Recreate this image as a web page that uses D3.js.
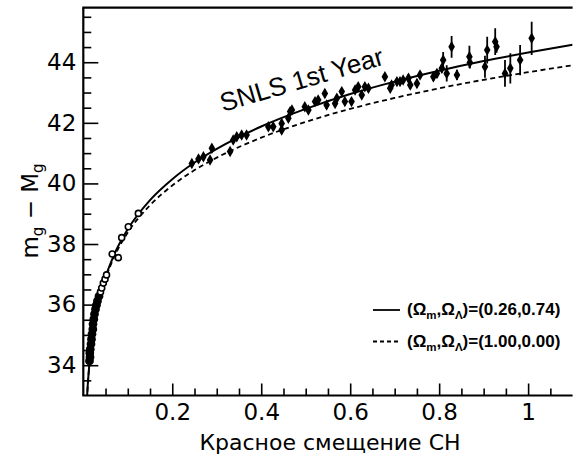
<!DOCTYPE html>
<html><head><meta charset="utf-8">
<script src="https://cdn.jsdelivr.net/npm/d3@7"></script>
<style>body{margin:0;background:#fff}</style>
</head><body><svg id="c" width="573" height="459"></svg>
<script>
// Nearby supernovae (low redshift)
const nearbyZ   = [0.0139,0.0151,0.0146,0.0157,0.0173,0.0184,0.0196,0.0214,0.0218,0.0236,0.0252,0.0274,0.0297,0.0319,0.0353,0.0387,0.0414,0.0450,0.0488,0.0522,0.0650,0.0787,0.0863,0.1012,0.1237];
const nearbyMag = [34.14,34.27,34.40,34.53,34.70,34.86,35.03,35.19,35.36,35.52,35.69,35.85,35.99,36.12,36.28,36.42,36.55,36.71,36.84,36.98,37.67,37.55,38.21,38.57,39.01];
const nearbyErr = [0.12,0.12,0.12,0.12,0.12,0.12,0.12,0.12,0.12,0.12,0.12,0.12,0.12,0.12,0.12,0.08,0.08,0.08,0.08,0.08,0.08,0.08,0.08,0.08,0.08];
const nearbyOpen= [0,0,0,0,0,0,0,0,0,0,0,0,0,0,0,1,1,1,1,1,1,1,1,1,1];
// SNLS first-year supernovae
const snlsZ   = [0.244,0.259,0.270,0.289,0.285,0.330,0.337,0.345,0.356,0.367,0.416,0.427,0.446,0.446,0.461,0.465,0.469,0.498,0.506,0.521,0.528,0.543,0.547,0.566,0.570,0.581,0.588,0.603,0.611,0.618,0.626,0.633,0.641,0.678,0.690,0.693,0.705,0.712,0.719,0.731,0.735,0.750,0.757,0.787,0.795,0.806,0.809,0.817,0.828,0.840,0.868,0.869,0.903,0.908,0.926,0.929,0.948,0.960,0.982,1.008];
const snlsMag = [40.66,40.81,40.88,41.16,40.77,41.05,41.43,41.54,41.60,41.60,41.87,41.87,41.98,41.76,42.15,42.37,42.42,42.53,42.42,42.70,42.75,42.97,42.59,42.64,42.81,43.03,42.70,42.70,43.08,43.19,42.92,43.19,43.14,43.52,43.14,43.25,43.36,43.36,43.41,43.47,43.25,43.30,43.58,43.52,43.63,43.80,44.07,43.63,44.51,43.58,44.18,43.99,43.85,44.40,44.68,44.51,43.63,43.80,44.07,44.79];
const snlsErr = [0.12,0.12,0.12,0.13,0.13,0.12,0.12,0.12,0.12,0.12,0.12,0.12,0.12,0.13,0.12,0.13,0.12,0.12,0.13,0.12,0.12,0.13,0.13,0.12,0.12,0.13,0.13,0.12,0.12,0.12,0.13,0.12,0.12,0.13,0.13,0.12,0.12,0.12,0.12,0.13,0.13,0.15,0.13,0.15,0.15,0.15,0.27,0.27,0.36,0.17,0.36,0.20,0.36,0.44,0.44,0.20,0.44,0.50,0.50,0.55];
// Model curves
const modelZ  = [0.007,0.01,0.012,0.015,0.02,0.025,0.03,0.04,0.05,0.07,0.1,0.15,0.2,0.25,0.3,0.4,0.5,0.6,0.7,0.8,0.9,1.0,1.1];
const lcdmMag = [32.57,33.35,33.75,34.24,34.87,35.36,35.77,36.41,36.91,37.67,38.49,39.45,40.14,40.69,41.14,41.88,42.46,42.95,43.36,43.72,44.04,44.32,44.58];
const edsMag  = [32.56,33.33,33.73,34.22,34.84,35.33,35.73,36.36,36.85,37.59,38.38,39.28,39.93,40.44,40.85,41.51,42.03,42.46,42.82,43.14,43.42,43.67,43.90];
// Ticks and labels
const xMajor = [0.2,0.4,0.6,0.8,1.0];
const xMinor = [0.05,0.1,0.15,0.25,0.3,0.35,0.45,0.5,0.55,0.65,0.7,0.75,0.85,0.9,0.95,1.05];
const yMajor = [34,36,38,40,42,44];
const yMinor = [33.5,34.5,35,35.5,36.5,37,37.5,38.5,39,39.5,40.5,41,41.5,42.5,43,43.5,44.5,45,45.5];
const xTitle = "Красное смещение СН";
const plotNote = "SNLS 1st Year";
const legendVals = ["(0.26,0.74)","(1.00,0.00)"];

const svg = d3.select('#c');
const x = d3.scaleLinear().domain([0,1.1]).range([83.3,572.6]);
const y = d3.scaleLinear().domain([33,45.8]).range([395.5,7.7]);
const numFont = "DejaVu Sans";

svg.append('clipPath').attr('id','clip').append('rect')
  .attr('x',x(0)).attr('y',y(45.8)).attr('width',x(1.1)-x(0)).attr('height',y(33)-y(45.8));

function styleAxis(g){
  g.select('.domain').remove();
  g.selectAll('line').attr('stroke','#000').attr('stroke-width',1.6);
  g.selectAll('text').attr('font-family',numFont).attr('font-size',23).attr('fill','#000');
}
svg.append('g').attr('transform',`translate(${x(0)},0)`)
  .call(d3.axisLeft(y).tickValues(yMinor).tickSize(-8).tickFormat('')).call(styleAxis);
svg.append('g').attr('transform',`translate(${x(0)},0)`)
  .call(d3.axisLeft(y).tickValues(yMajor).tickSize(-15).tickPadding(7).tickFormat(d3.format('d'))).call(styleAxis);
svg.append('g').attr('transform',`translate(0,${y(33)})`)
  .call(d3.axisBottom(x).tickValues(xMinor).tickSize(-7).tickFormat('')).call(styleAxis);
svg.append('g').attr('transform',`translate(0,${y(33)})`)
  .call(d3.axisBottom(x).tickValues(xMajor).tickSize(-12).tickPadding(8).tickFormat(d3.format('~g'))).call(styleAxis);

const frame = svg.append('g').attr('stroke','#000').attr('stroke-width',2.2).attr('fill','none');
frame.append('line').attr('x1',x(0)).attr('x2',x(0)).attr('y1',y(45.8)).attr('y2',y(33));
frame.append('line').attr('x1',x(0)-1).attr('x2',x(1.1)).attr('y1',y(33)).attr('y2',y(33));
frame.append('line').attr('x1',x(0)-1).attr('x2',x(1.1)).attr('y1',y(45.8)).attr('y2',y(45.8));

const line = d3.line().x(d=>x(d[0])).y(d=>y(d[1])).curve(d3.curveMonotoneX);
const plot = svg.append('g').attr('clip-path','url(#clip)');
plot.append('path').datum(modelZ.map((z,i)=>[z,edsMag[i]])).attr('d',line)
  .attr('fill','none').attr('stroke','#000').attr('stroke-width',1.8).attr('stroke-dasharray','5,3.5');
plot.append('path').datum(modelZ.map((z,i)=>[z,lcdmMag[i]])).attr('d',line)
  .attr('fill','none').attr('stroke','#000').attr('stroke-width',2);

const nearby = nearbyZ.map((z,i)=>({z,m:nearbyMag[i],e:nearbyErr[i],o:nearbyOpen[i]}));
const snls = snlsZ.map((z,i)=>({z,m:snlsMag[i],e:snlsErr[i]}));
plot.selectAll('line.eb').data(nearby.concat(snls)).join('line').attr('class','eb')
  .attr('x1',d=>x(d.z)).attr('x2',d=>x(d.z)).attr('y1',d=>y(d.m-d.e)).attr('y2',d=>y(d.m+d.e))
  .attr('stroke','#000').attr('stroke-width',1.8);
plot.selectAll('circle.nb').data(nearby).join('circle').attr('class','nb')
  .attr('cx',d=>x(d.z)).attr('cy',d=>y(d.m)).attr('r',d=>d.o?3:3.6)
  .attr('fill',d=>d.o?'#fff':'#000').attr('stroke','#000').attr('stroke-width',1.6);
const diamond = d3.symbol().type(d3.symbolDiamond).size(38);
plot.selectAll('path.sn').data(snls).join('path').attr('class','sn')
  .attr('transform',d=>`translate(${x(d.z)},${y(d.m)})`).attr('d',diamond).attr('fill','#000');

svg.append('text').attr('transform',`translate(223,112) rotate(-16.4)`)
  .attr('font-family','Liberation Sans, Arial, sans-serif').attr('font-size',26).attr('fill','#000')
  .text(plotNote);

svg.append('text').attr('x',330).attr('y',450).attr('text-anchor','middle')
  .attr('font-family',numFont).attr('font-size',22).attr('fill','#000').text(xTitle);
const yt = svg.append('text').attr('transform','translate(38,211) rotate(-90)').attr('text-anchor','middle')
  .attr('font-family',numFont).attr('font-size',23).attr('fill','#000');
yt.append('tspan').text('m');
yt.append('tspan').attr('font-size',15).attr('dy',5).text('g');
yt.append('tspan').attr('dy',-5).text(' − M');
yt.append('tspan').attr('font-size',15).attr('dy',5).text('g');

const lg = svg.append('g');
const legY = [310, 341.5];
legendVals.forEach((v,i)=>{
  lg.append('line').attr('x1',373).attr('x2',400).attr('y1',legY[i]).attr('y2',legY[i])
    .attr('stroke','#000').attr('stroke-width',1.8).attr('stroke-dasharray',i? '4,3':null);
  const t = lg.append('text').attr('x',407).attr('y',legY[i]+5)
    .attr('font-family','Liberation Sans, Arial, sans-serif').attr('font-size',17).attr('font-weight','bold').attr('fill','#000');
  t.append('tspan').text('(Ω');
  t.append('tspan').attr('font-size',11.5).attr('dy',4).text('m');
  t.append('tspan').attr('dy',-4).text(',Ω');
  t.append('tspan').attr('font-size',11.5).attr('dy',4).text('Λ');
  t.append('tspan').attr('dy',-4).text(')=' + v);
});
</script></body></html>
